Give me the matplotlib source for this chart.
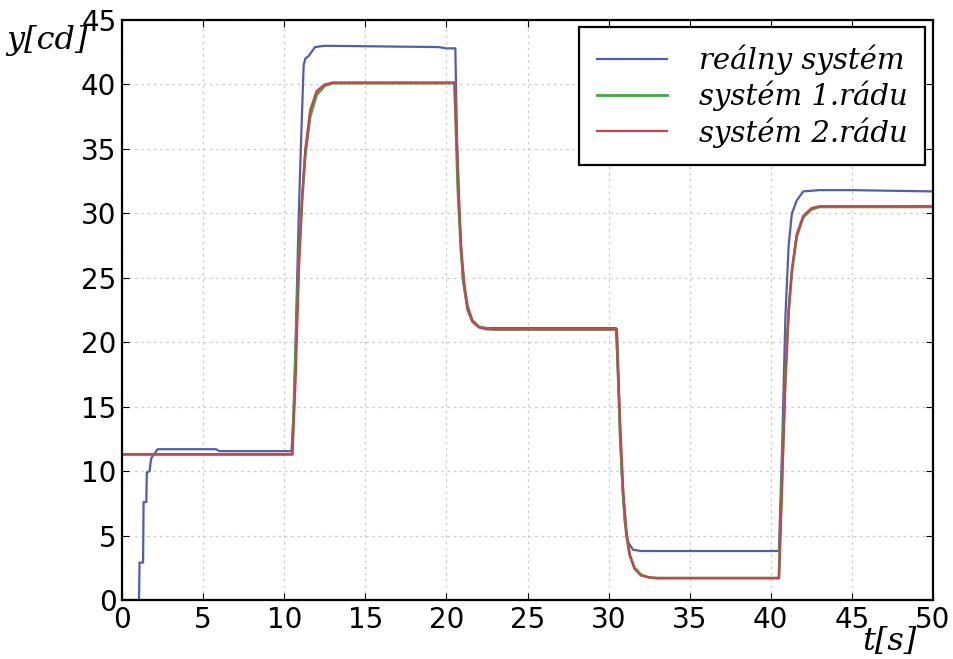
import matplotlib
matplotlib.use("Agg")
import matplotlib.pyplot as plt

t_real = [0, 1.05, 1.08, 1.3, 1.33, 1.5, 1.53, 1.7, 1.8, 2.2, 5.8, 6.0, 10.45,
          10.6, 10.9, 11.05, 11.2, 11.3, 11.5, 11.9, 12.5, 19.5, 20.0, 20.55,
          20.65, 20.8, 21.0, 21.3, 21.6, 22.0, 22.5, 30.45, 30.6, 30.8, 31.0,
          31.2, 31.5, 32.0, 40.5, 40.7, 40.9, 41.1, 41.3, 41.6, 42.0, 43.0, 45.0, 50]
y_real = [0, 0, 2.9, 2.9, 7.6, 7.6, 9.9, 10.0, 11.0, 11.7, 11.7, 11.55, 11.55,
          15, 30, 36, 41.5, 42.0, 42.2, 42.9, 43.0, 42.9, 42.8, 42.8,
          36, 30, 25, 22.5, 21.6, 21.2, 21.1, 21.1, 17, 10, 6.0,
          4.5, 3.9, 3.8, 3.8, 12, 22, 27.5, 30, 31, 31.7, 31.8, 31.8, 31.7]

# model responses
t_mod = [0, 10.5, 10.7, 10.9, 11.1, 11.3, 11.6, 12.0, 12.5, 13.0,
         20.5, 20.7, 20.9, 21.1, 21.3, 21.6, 22.0, 22.5, 23.0,
         30.5, 30.7, 30.9, 31.1, 31.3, 31.6, 32.0, 32.5, 33.0,
         40.5, 40.7, 40.9, 41.1, 41.3, 41.6, 42.0, 42.5, 43.0, 50]
y_mod1 = [11.3, 11.3, 19, 26.5, 31, 34.5, 37.5, 39.2, 39.9, 40.1,
          40.1, 32, 27, 24.4, 22.8, 21.7, 21.2, 21.05, 21.0,
          21.0, 13, 8.0, 5.0, 3.5, 2.5, 1.95, 1.75, 1.7,
          1.7, 10, 17.5, 22.5, 25.5, 28.2, 29.7, 30.3, 30.5, 30.5]
y_mod2 = [11.3, 11.3, 17, 25.5, 31, 35, 38, 39.5, 40.0, 40.15,
          40.15, 33.5, 27.5, 24.5, 22.7, 21.6, 21.15, 21.0, 21.0,
          21.0, 14, 8.5, 5.2, 3.5, 2.4, 1.9, 1.75, 1.7,
          1.7, 9, 17, 22.3, 25.6, 28.4, 29.8, 30.4, 30.55, 30.55]

labels = ["reálny systém", "systém 1.rádu", "systém 2.rádu"]
colors = ["#4f5fae", "#3daa3d", "#c8424f"]

fig = plt.figure(figsize=(9.54, 6.59), dpi=100)
ax = fig.add_axes([122/954, 1 - 600/659, (933-122)/954, (600-20)/659])

ax.plot(t_real, y_real, color=colors[0], lw=1.6, label=labels[0])
ax.plot(t_mod, y_mod1, color=colors[1], lw=2.0, label=labels[1])
ax.plot(t_mod, y_mod2, color=colors[2], lw=1.6, label=labels[2])

ax.set_xlim(0, 50)
ax.set_ylim(0, 45)
ax.set_xticks(range(0, 51, 5))
ax.set_yticks(range(0, 46, 5))
ax.grid(True, color="#cccccc", linestyle=(0, (2, 3)), linewidth=0.9)
ax.tick_params(direction="in", top=True, right=True, length=5,
               labelsize=20, pad=4)
for sp in ax.spines.values():
    sp.set_linewidth(1.6)

leg = ax.legend(loc="upper right", bbox_to_anchor=(0.99, 0.988),
                borderaxespad=0, fancybox=False, edgecolor="black",
                prop={"family": "DejaVu Serif", "style": "italic", "size": 21},
                handlelength=2.4, handletextpad=1.1, labelspacing=0.2,
                borderpad=0.6)
leg.get_frame().set_linewidth(1.6)
leg.get_frame().set_alpha(1)

fig.text(0.006, 1 - 40/659, "y[cd]", family="DejaVu Serif", style="italic",
         fontsize=23, va="center", ha="left")
fig.text(862/954, 1 - 641/659, "t[s]", family="DejaVu Serif", style="italic",
         fontsize=23, va="center", ha="left")

fig.savefig("out.png", dpi=100)
